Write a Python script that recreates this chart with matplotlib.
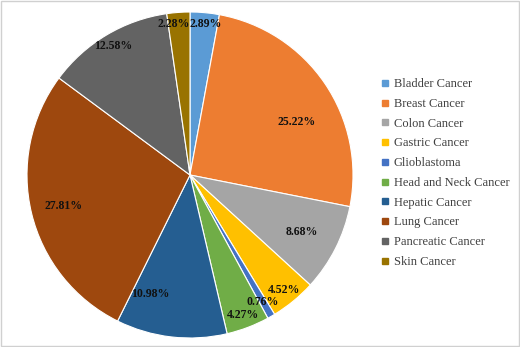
import matplotlib.pyplot as plt
import numpy as np
from matplotlib.patches import Rectangle

# datos
categorias = ['Bladder Cancer', 'Breast Cancer', 'Colon Cancer', 'Gastric Cancer',
              'Glioblastoma', 'Head and Neck Cancer', 'Hepatic Cancer', 'Lung Cancer',
              'Pancreatic Cancer', 'Skin Cancer']
porcentajes = [2.89, 25.22, 8.68, 4.52, 0.76, 4.27, 10.98, 27.81, 12.58, 2.28]
colores = ['#5B9BD5', '#ED7D31', '#A5A5A5', '#FFC000', '#4472C4',
           '#70AD47', '#255E91', '#9E480E', '#636363', '#997300']
# colocacion de etiquetas: distancia (fraccion del radio), giro en grados, alineacion
distancias = [0.93, 0.73, 0.77, 0.91, 0.90, 0.92, 0.77, 0.80, 0.92, 0.93]
giros = [0, -8, 0, 0, 0, 0, -12, 0, 0, 0]
alineacion = ['left', 'center', 'center', 'center', 'center',
              'center', 'center', 'center', 'center', 'right']

plt.rcParams['font.family'] = ['Liberation Serif', 'DejaVu Serif']

fig = plt.figure(figsize=(5.2, 3.47), dpi=100)
fig.patches.append(Rectangle((0.002, 0.003), 0.996, 0.994, transform=fig.transFigure,
                             fill=False, edgecolor='#D0D0D0', linewidth=1))

cx, cy, r = 190 / 520, 1 - 175 / 347, 163
ax = fig.add_axes([cx - r / 520, cy - r / 347, 2 * r / 520, 2 * r / 347])

cunas, _ = ax.pie(porcentajes, colors=colores, startangle=90, counterclock=False,
                  wedgeprops=dict(edgecolor='white', linewidth=0.8))
ax.set_xlim(-1.0, 1.0)
ax.set_ylim(-1.0, 1.0)
ax.set_aspect('equal')

acum = np.cumsum([0] + porcentajes[:-1])
for p, a, d, g, ha in zip(porcentajes, acum, distancias, giros, alineacion):
    ang = np.deg2rad(90 - (a + p / 2) * 3.6 + g)
    x = d * np.cos(ang) if ha == 'center' else 0.0
    ax.text(x, d * np.sin(ang), f'{p:.2f}%', ha=ha, va='center',
            fontsize=8.5, fontweight='bold', color='#111111')

handles = [plt.Line2D([], [], marker='s', linestyle='', color=c, markersize=5)
           for c in colores]
fig.legend(handles, categorias, loc='center left', bbox_to_anchor=(370 / 520, 1 - 173 / 347),
           frameon=False, fontsize=9, handlelength=0.6, handletextpad=0.4,
           labelspacing=0.62, labelcolor='#404040')

fig.savefig('out.png', dpi=100)
